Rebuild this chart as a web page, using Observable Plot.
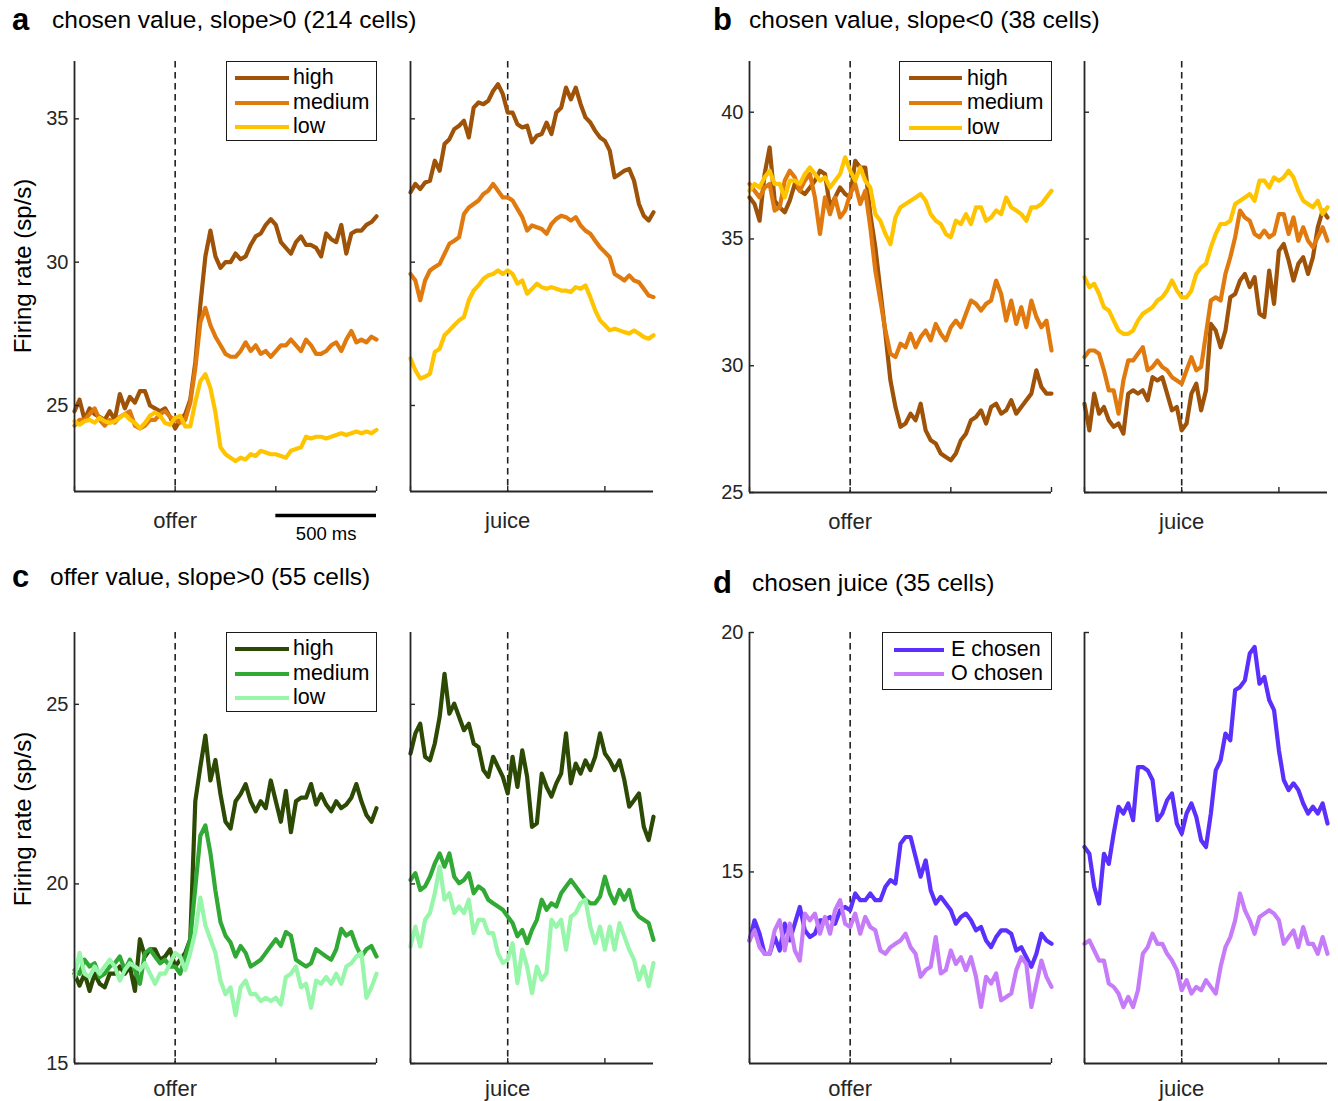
<!DOCTYPE html>
<html>
<head>
<meta charset="utf-8">
<script src="https://cdn.jsdelivr.net/npm/d3@7"></script>
<script src="https://cdn.jsdelivr.net/npm/@observablehq/plot@0.6"></script>
<style>
  body { margin: 0; background: #fff; }
  #root { position: relative; width: 1338px; height: 1101px; background: #fff; overflow: hidden;
          font-family: "Liberation Sans", Arial, Helvetica, sans-serif; color: #000; }
  .abs { position: absolute; white-space: nowrap; line-height: 1; }
  .legend { position: absolute; background: #fff; border: 1.4px solid #1a1a1a; box-sizing: border-box; }
</style>
</head>
<body>
<div id="root"></div>
<script>
// ---------------- DATA ----------------
// sampling grid (ms) relative to offer onset and to juice delivery
const offerTimes = d3.range(-500, 1001, 25);   // 61 samples
const juiceTimes = d3.range(-500, 751, 25);    // 51 samples

const legendNames3 = ["high", "medium", "low"];
const legendNames2 = ["E chosen", "O chosen"];

// panel a: chosen value, slope>0
const aOfferHigh = [24.8,25.2,24.5,24.9,24.7,24.6,24.5,24.8,24.5,25.4,24.9,25.3,25.1,25.5,25.5,25.0,24.9,24.8,24.9,24.6,24.2,24.5,24.7,25.2,26.5,28.5,30.2,31.1,30.2,29.8,30.0,30.0,30.3,30.1,30.2,30.6,30.9,31.0,31.3,31.5,31.3,30.7,30.5,30.3,30.7,30.9,30.6,30.6,30.5,30.2,31.0,30.8,30.7,31.3,30.3,31.0,31.1,31.1,31.3,31.4,31.6];
const aOfferMed  = [24.3,24.5,24.5,24.7,24.9,24.5,24.3,24.5,24.4,24.6,24.7,24.8,24.3,24.2,24.3,24.5,24.5,24.7,24.8,24.6,24.5,24.4,24.5,25.1,26.3,27.9,28.4,27.8,27.4,27.1,26.8,26.7,26.7,26.9,27.2,26.9,27.1,26.8,26.9,26.7,26.9,27.1,27.1,27.3,27.1,26.9,27.3,27.1,26.8,26.8,26.9,27.1,27.2,26.9,27.3,27.6,27.2,27.3,27.2,27.4,27.3];
const aOfferLow  = [24.45,24.33,24.45,24.5,24.4,24.57,24.45,24.39,24.45,24.57,24.7,24.51,24.39,24.21,24.39,24.64,24.76,24.64,24.39,24.33,24.57,24.64,24.27,24.27,25.12,25.85,26.09,25.61,24.76,23.54,23.3,23.18,23.06,23.18,23.12,23.3,23.24,23.42,23.36,23.3,23.3,23.24,23.18,23.42,23.48,23.54,23.91,23.85,23.91,23.91,23.85,23.91,23.97,24.03,23.97,24.03,24.09,24.03,24.09,24.03,24.15];
const aJuiceHigh = [32.44,32.73,32.55,32.78,32.84,33.54,33.19,34.12,34.29,34.64,34.76,34.93,34.35,35.39,35.57,35.51,35.63,35.97,36.21,35.86,35.22,35.22,34.81,34.70,34.76,34.18,34.41,34.47,34.87,34.47,35.22,35.39,36.09,35.68,36.09,35.51,35.05,34.87,34.58,34.35,34.23,33.89,32.96,33.07,33.19,33.25,32.84,32.03,31.62,31.45,31.74];
const aJuiceMed  = [29.59,29.36,28.67,29.36,29.71,29.83,29.94,30.29,30.64,30.75,30.87,31.68,31.91,32.03,32.15,32.38,32.49,32.73,32.49,32.26,32.26,32.15,31.86,31.57,31.10,31.28,31.22,31.16,30.99,31.33,31.51,31.62,31.57,31.45,31.57,31.28,31.10,30.99,30.75,30.52,30.35,30.17,29.59,29.48,29.36,29.54,29.36,29.30,29.07,28.84,28.78];
const aJuiceLow  = [26.64,26.23,25.94,26.00,26.11,26.87,26.98,27.45,27.62,27.80,27.97,28.09,28.67,29.01,29.19,29.42,29.54,29.59,29.71,29.59,29.71,29.59,29.25,29.36,28.90,29.07,29.25,29.13,29.07,29.13,29.07,29.01,29.01,28.96,29.13,29.07,29.19,28.78,28.32,27.97,27.80,27.62,27.68,27.62,27.56,27.51,27.62,27.51,27.39,27.33,27.45];

// panel b: chosen value, slope<0
const bOfferHigh = [36.64,36.38,35.72,37.56,38.61,36.51,36.25,36.05,36.51,37.17,36.90,36.77,37.03,37.30,37.69,37.56,36.25,36.64,37.03,36.77,36.64,38.08,37.82,37.82,35.98,34.67,32.97,31.26,29.42,28.37,27.59,27.72,28.11,27.85,28.50,27.45,27.06,26.93,26.54,26.40,26.27,26.54,27.06,27.32,27.85,27.98,28.24,27.72,28.37,28.50,28.11,28.24,28.64,28.11,28.37,28.64,28.90,29.82,29.16,28.90,28.90];
const bOfferMed  = [37.17,36.90,36.64,37.03,37.17,36.12,36.25,37.30,37.69,37.43,36.90,37.30,37.56,36.64,35.20,36.64,35.98,36.64,35.85,36.12,36.77,37.17,36.38,36.90,35.46,33.75,32.57,31.39,30.47,30.34,30.87,30.73,31.26,30.73,31.13,31.39,31.00,31.65,31.26,31.00,31.52,31.78,31.52,32.05,32.57,32.44,32.18,32.44,32.57,33.36,32.83,31.78,32.57,31.65,32.31,31.52,32.57,31.92,31.52,31.78,30.60];
const bOfferLow  = [36.90,37.17,37.03,37.43,37.69,37.17,37.17,36.64,37.30,37.30,37.17,37.56,37.82,37.56,37.30,37.43,37.03,37.30,37.56,38.22,37.69,37.30,37.82,37.30,37.03,35.98,35.72,35.20,34.80,35.85,36.25,36.38,36.51,36.64,36.77,36.51,35.98,35.72,35.59,35.20,35.07,35.72,35.59,35.98,35.59,36.25,36.25,35.72,35.85,36.12,35.98,36.64,36.25,36.12,35.98,35.72,36.25,36.25,36.38,36.64,36.90];
const bJuiceHigh = [28.50,27.45,28.90,28.11,28.37,27.85,27.59,27.72,27.32,28.90,29.03,28.90,29.03,28.64,29.55,29.42,29.55,28.90,28.24,28.37,27.45,27.72,28.90,29.29,28.24,29.03,31.65,31.39,30.73,31.39,32.70,32.83,33.36,33.62,33.10,33.49,32.05,31.92,33.75,32.44,34.54,34.80,34.15,33.36,34.02,34.28,33.62,34.28,35.46,36.12,35.85];
const bJuiceMed  = [30.34,30.60,30.60,30.47,29.82,29.03,29.03,28.11,29.42,30.21,30.21,30.47,30.73,29.82,29.95,30.21,29.95,29.82,29.55,29.42,29.29,29.82,30.34,29.82,29.95,31.26,32.57,32.70,32.57,33.62,34.28,35.07,36.12,35.85,35.72,35.20,35.07,35.33,35.07,35.20,35.98,35.98,35.20,35.85,34.93,35.46,34.93,34.67,35.07,35.46,34.93];
const bJuiceLow  = [33.49,33.10,33.23,32.83,32.31,32.18,31.78,31.39,31.26,31.26,31.39,31.78,32.05,32.18,32.31,32.57,32.70,32.97,33.36,32.97,32.70,32.70,32.97,33.62,33.88,34.02,34.67,35.20,35.59,35.59,35.72,36.38,36.51,36.64,36.77,36.51,37.30,37.30,37.03,37.43,37.30,37.43,37.69,37.43,36.90,36.51,36.38,36.25,36.51,35.98,36.25];

// panel c: offer value, slope>0
const cOfferHigh = [17.50,17.17,17.50,17.02,17.50,17.22,17.12,17.50,17.50,17.70,17.50,17.70,17.02,18.46,17.98,18.18,18.18,17.89,17.98,18.18,17.70,17.89,18.08,18.46,22.30,23.26,24.13,22.88,23.45,22.50,21.73,21.54,22.30,22.50,22.78,22.30,22.02,22.30,22.11,22.88,22.30,21.73,22.59,21.44,22.30,22.40,22.40,22.78,22.21,22.50,22.21,22.02,22.30,22.11,22.21,22.40,22.78,22.30,21.92,21.73,22.11];
const cOfferMed  = [17.60,17.50,17.89,17.70,17.79,17.41,17.50,17.70,17.79,17.98,17.60,17.89,17.60,17.22,18.08,18.18,17.98,17.79,17.89,17.70,17.70,17.50,17.98,18.46,19.90,21.34,21.63,20.86,19.81,18.94,18.56,18.37,17.98,18.27,18.08,17.70,17.79,17.89,18.08,18.27,18.46,18.27,18.66,18.56,17.89,17.79,17.70,17.79,18.18,18.08,17.98,17.89,18.18,18.75,18.56,18.66,18.27,17.98,18.18,18.27,17.98];
const cOfferLow  = [17.41,18.08,17.50,17.41,17.70,17.50,17.70,17.89,17.70,17.31,17.60,17.79,17.70,17.60,17.79,17.50,17.22,17.50,17.50,17.79,18.08,17.98,17.60,18.08,18.66,19.62,18.85,18.46,18.08,17.31,16.93,17.12,16.35,17.12,17.31,16.93,16.93,16.74,16.83,16.74,16.83,16.64,17.41,17.50,17.70,17.12,17.22,16.55,17.31,17.22,17.41,17.22,17.50,17.22,17.70,17.79,17.98,18.08,16.83,17.12,17.50];
const cJuiceHigh = [23.63,24.19,24.46,23.54,23.44,23.91,24.65,25.85,24.74,25.02,24.65,24.28,24.46,23.91,23.81,23.17,22.98,23.54,23.26,22.98,22.52,23.54,22.70,23.72,22.98,21.59,21.69,23.07,22.70,22.43,22.80,23.07,24.19,22.80,23.35,23.07,23.44,23.17,23.54,24.19,23.63,23.44,23.17,23.44,22.89,22.15,22.33,22.52,21.59,21.22,21.87];
const cJuiceMed  = [20.11,20.30,19.83,19.93,20.20,20.57,20.85,20.48,20.85,20.20,20.02,20.11,20.30,19.74,19.93,19.83,19.56,19.46,19.37,19.28,19.09,18.91,18.54,18.72,18.35,18.72,19.00,19.56,19.28,19.46,19.37,19.74,19.93,20.11,19.93,19.74,19.56,19.46,19.46,19.65,20.20,19.74,19.46,19.83,19.56,19.83,19.28,19.09,19.00,18.91,18.44];
const cJuiceLow  = [18.26,18.81,18.26,19.00,19.19,19.74,20.48,19.56,19.74,19.19,19.37,19.19,19.56,18.63,19.00,19.00,18.63,18.63,18.07,17.80,17.89,18.35,17.24,18.17,17.70,16.96,17.70,17.33,17.52,19.00,18.81,19.00,18.17,19.09,19.19,19.46,19.56,18.81,18.35,18.81,18.17,18.81,18.17,18.91,18.54,18.17,17.89,17.33,17.70,17.15,17.80];

// panel d: chosen juice
const dOfferE = [13.57,13.99,13.71,13.29,13.29,13.64,13.36,13.92,13.57,13.92,14.27,13.78,13.64,13.71,13.99,13.99,14.06,13.92,14.20,14.27,14.20,14.55,14.41,14.41,14.55,14.41,14.41,14.69,14.83,14.76,15.59,15.73,15.73,15.31,14.90,15.24,14.62,14.34,14.48,14.34,14.20,13.92,14.06,14.13,13.99,13.78,13.85,13.57,13.43,13.64,13.78,13.78,13.71,13.36,13.43,13.22,13.02,13.29,13.71,13.57,13.50];
const dOfferO = [13.57,13.78,13.43,13.29,13.29,13.78,13.99,13.36,13.92,13.36,13.15,14.13,13.99,14.13,13.71,14.06,13.71,14.20,14.41,13.92,13.85,14.13,13.71,14.06,13.85,13.78,13.36,13.29,13.43,13.50,13.57,13.71,13.43,13.29,12.81,12.95,13.02,13.64,12.88,12.95,13.36,13.08,13.22,12.95,13.22,12.81,12.18,12.81,12.67,12.88,12.32,12.39,12.46,12.95,13.22,13.08,12.18,12.67,13.15,12.81,12.60];
const dJuiceE = [15.52,15.38,14.69,14.34,15.38,15.17,15.80,16.36,16.22,16.43,16.08,17.19,17.19,17.12,16.92,16.08,16.22,16.50,16.64,16.01,15.80,16.22,16.43,16.15,15.66,15.52,16.22,17.12,17.33,17.89,17.75,18.80,18.86,19.00,19.56,19.70,18.93,19.07,18.59,18.38,17.54,16.92,16.71,16.85,16.71,16.43,16.22,16.36,16.22,16.43,16.01];
const dJuiceO = [13.50,13.57,13.36,13.15,13.15,12.67,12.60,12.46,12.18,12.39,12.18,12.53,13.29,13.43,13.71,13.50,13.50,13.29,13.15,12.95,12.53,12.74,12.46,12.60,12.53,12.74,12.60,12.46,13.02,13.43,13.64,13.99,14.55,14.20,13.99,13.71,14.06,14.13,14.20,14.13,13.99,13.50,13.64,13.78,13.43,13.85,13.50,13.50,13.29,13.64,13.29];

// y tick values per panel
const aYTicks = [25, 30, 35];
const bYTicks = [25, 30, 35, 40];
const cYTicks = [15, 20, 25];
const dYTicks = [15, 20];
const offerXTicks = [-500, 0, 500, 1000];
const juiceXTicks = [-500, 0, 500];

// ---------------- STYLE ----------------
const browns  = ["#9e5308", "#e07a0e", "#ffc400"];
const greens  = ["#2d4a05", "#31a935", "#97f6aa"];
const purples = ["#5b30fc", "#c67cf9"];
const AXIS = "#262626";
const FONT = '"Liberation Sans", Arial, Helvetica, sans-serif';

const root = document.getElementById("root");

function addText(txt, left, baseline, size, weight = "normal", color = "#000") {
  const d = document.createElement("div");
  d.className = "abs";
  d.textContent = txt;
  d.style.left = left + "px";
  d.style.top = (baseline - 0.8465 * size) + "px";
  d.style.fontSize = size + "px";
  d.style.fontWeight = weight;
  d.style.color = color;
  root.appendChild(d);
}

function addYLabel(txt, cx, cy, size) {
  const d = document.createElement("div");
  d.className = "abs";
  d.textContent = txt;
  d.style.left = cx + "px";
  d.style.top = cy + "px";
  d.style.fontSize = size + "px";
  d.style.color = "#000";
  d.style.transform = "translate(-50%, -50%) rotate(-90deg)";
  root.appendChild(d);
}

function addLegend(names, colors, box, rows, lineX0, lineX1, textX) {
  const lg = document.createElement("div");
  lg.className = "legend";
  lg.style.left = box.left + "px";
  lg.style.top = box.top + "px";
  lg.style.width = box.width + "px";
  lg.style.height = box.height + "px";
  root.appendChild(lg);
  names.forEach((name, i) => {
    const cy = rows[i] - box.top;
    const svgNS = "http://www.w3.org/2000/svg";
    const s = document.createElementNS(svgNS, "svg");
    s.setAttribute("width", lineX1 - lineX0 + 4);
    s.setAttribute("height", 8);
    s.style.position = "absolute";
    s.style.left = (lineX0 - box.left - 2) + "px";
    s.style.top = (cy - 4) + "px";
    const ln = document.createElementNS(svgNS, "line");
    ln.setAttribute("x1", 2); ln.setAttribute("x2", lineX1 - lineX0 + 2);
    ln.setAttribute("y1", 4); ln.setAttribute("y2", 4);
    ln.setAttribute("stroke", colors[i]); ln.setAttribute("stroke-width", 3.8);
    s.appendChild(ln);
    lg.appendChild(s);
    const t = document.createElement("div");
    t.className = "abs";
    t.textContent = name;
    t.style.fontSize = "21.5px";
    t.style.left = (textX - box.left) + "px";
    t.style.top = (cy + 7.6 - 0.8465 * 21.5) + "px";
    lg.appendChild(t);
  });
}

function subplot({x0, x1, y0, y1, xDomain, yDomain, xTicks, yTicks, yLabels, xLabel, labelPad, series, colors, scalebar}) {
  const ML = 64, MR = 12, MT = 12, MB = 64;
  const W = x1 - x0, H = y1 - y0;
  const marks = [
    Plot.ruleX([0], {stroke: "#222", strokeWidth: 1.6, strokeDasharray: "6.5,4.5"})
  ];
  series.forEach((s, i) => {
    const rows = s.t.map((t, j) => ({t, v: s.v[j]}));
    marks.push(Plot.line(rows, {x: "t", y: "v", stroke: colors[i], strokeWidth: 4.2,
                                strokeLinejoin: "round", strokeLinecap: "round"}));
  });
  marks.push(
    Plot.ruleX([xDomain[0]], {stroke: AXIS, strokeWidth: 1.8}),
    Plot.ruleY([yDomain[0]], {stroke: AXIS, strokeWidth: 1.8}),
    Plot.tickY(yTicks, {stroke: AXIS, strokeWidth: 1.4, insetRight: W - 5}),
    Plot.tickX(xTicks, {stroke: AXIS, strokeWidth: 1.4, insetTop: H - 5}),
    Plot.axisX([0], {anchor: "bottom", tickSize: 0, tickPadding: labelPad, tickFormat: () => xLabel,
                     fontSize: 22, label: null})
  );
  if (yLabels) {
    marks.push(Plot.axisY(yTicks, {anchor: "left", tickSize: 0, tickPadding: 6, fontSize: 20, label: null}));
  }
  if (scalebar) {
    marks.push(
      Plot.ruleY([yDomain[0]], {x1: 500, x2: 1000, dy: 24, stroke: "#000", strokeWidth: 3.5}),
      Plot.text(["500 ms"], {x: 750, y: yDomain[0], dy: 43, fontSize: 18.5, fill: "#000"})
    );
  }
  const svg = Plot.plot({
    width: W + ML + MR, height: H + MT + MB,
    marginLeft: ML, marginRight: MR, marginTop: MT, marginBottom: MB,
    x: {domain: xDomain, axis: null},
    y: {domain: yDomain, axis: null},
    style: {background: "transparent", fontFamily: FONT, fontSize: "20px", color: AXIS, overflow: "visible"},
    marks
  });
  svg.style.position = "absolute";
  svg.style.left = (x0 - ML) + "px";
  svg.style.top = (y0 - MT) + "px";
  root.appendChild(svg);
}

// ---------------- PANELS ----------------
const panels = [
  {letter: "a", title: "chosen value, slope>0 (214 cells)", letterX: 12, titleX: 52, base: 29,
   top: 61, bottom: 491, L: [74, 376], R: [410, 653], yDomain: [22, 37], yTicks: aYTicks, labelPad: 21,
   colors: browns, names: legendNames3, offer: [aOfferHigh, aOfferMed, aOfferLow], juice: [aJuiceHigh, aJuiceMed, aJuiceLow],
   scalebar: true, ylabel: 266,
   legend: {box: {left: 226, top: 61, width: 151, height: 80}, rows: [77, 101.5, 126], lx: [234, 288], tx: 292}},
  {letter: "b", title: "chosen value, slope<0 (38 cells)", letterX: 713, titleX: 749, base: 29,
   top: 61, bottom: 492, L: [749, 1051], R: [1084, 1327], yDomain: [25, 42], yTicks: bYTicks, labelPad: 21,
   colors: browns, names: legendNames3, offer: [bOfferHigh, bOfferMed, bOfferLow], juice: [bJuiceHigh, bJuiceMed, bJuiceLow],
   scalebar: false, ylabel: null,
   legend: {box: {left: 899, top: 61, width: 153, height: 80}, rows: [77.3, 102, 126.7], lx: [908, 961], tx: 966}},
  {letter: "c", title: "offer value, slope>0 (55 cells)", letterX: 12, titleX: 50, base: 586,
   top: 632, bottom: 1063, L: [74, 376], R: [410, 653], yDomain: [15, 27], yTicks: cYTicks, labelPad: 17,
   colors: greens, names: legendNames3, offer: [cOfferHigh, cOfferMed, cOfferLow], juice: [cJuiceHigh, cJuiceMed, cJuiceLow],
   scalebar: false, ylabel: 819,
   legend: {box: {left: 226, top: 632, width: 151, height: 80}, rows: [648, 672.5, 697], lx: [234, 288], tx: 292}},
  {letter: "d", title: "chosen juice (35 cells)", letterX: 713, titleX: 752, base: 592,
   top: 632, bottom: 1063, L: [749, 1051], R: [1084, 1327], yDomain: [11, 20], yTicks: dYTicks, labelPad: 17,
   colors: purples, names: legendNames2, offer: [dOfferE, dOfferO], juice: [dJuiceE, dJuiceO],
   scalebar: false, ylabel: null,
   legend: {box: {left: 882, top: 632, width: 170, height: 58}, rows: [649, 673], lx: [893, 943], tx: 950}}
];

for (const p of panels) {
  subplot({x0: p.L[0], x1: p.L[1], y0: p.top, y1: p.bottom, xDomain: [-500, 1000], yDomain: p.yDomain,
           xTicks: offerXTicks, yTicks: p.yTicks, yLabels: true, xLabel: "offer", labelPad: p.labelPad,
           series: p.offer.map(v => ({t: offerTimes, v})), colors: p.colors, scalebar: p.scalebar});
  subplot({x0: p.R[0], x1: p.R[1], y0: p.top, y1: p.bottom, xDomain: [-500, 750], yDomain: p.yDomain,
           xTicks: juiceXTicks, yTicks: p.yTicks, yLabels: false, xLabel: "juice", labelPad: p.labelPad,
           series: p.juice.map(v => ({t: juiceTimes, v})), colors: p.colors, scalebar: false});
  addText(p.letter, p.letterX, p.base + 1, 31, "bold");
  addText(p.title, p.titleX, p.base, 24.5);
  if (p.ylabel) addYLabel("Firing rate (sp/s)", 23, p.ylabel, 24);
  addLegend(p.names, p.colors, p.legend.box, p.legend.rows, p.legend.lx[0], p.legend.lx[1], p.legend.tx);
}
</script>
</body>
</html>
